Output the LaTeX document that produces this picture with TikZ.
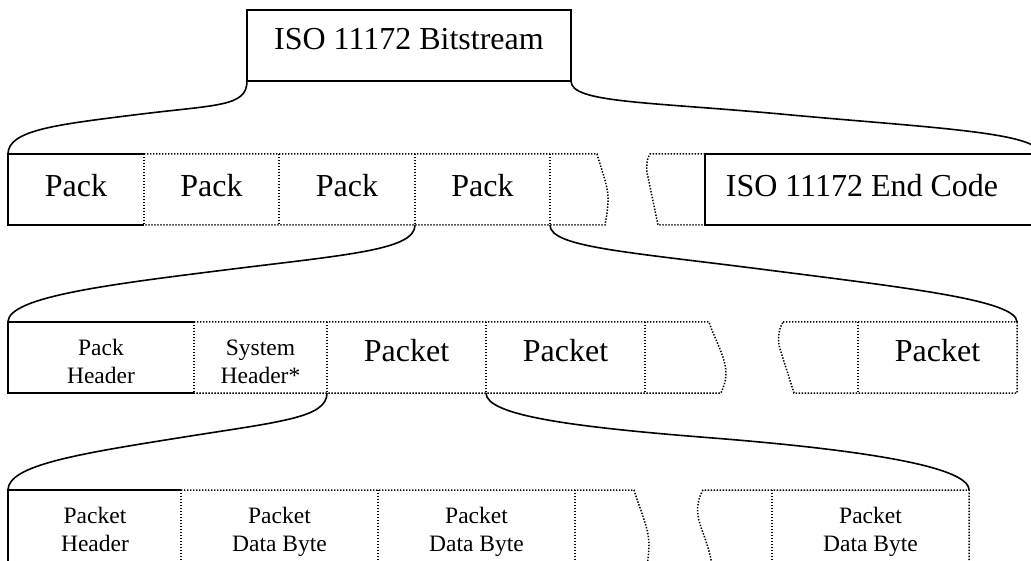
\documentclass[tikz,border=0pt]{standalone}
\usepackage{fontspec}
\setmainfont{Liberation Serif}
\usetikzlibrary{calc}
\begin{document}
\begin{tikzpicture}[x=1pt,y=-1pt,
  edgesolid/.style={line width=1.8pt},
  edgedot/.style={line width=1.5pt, dash pattern=on 1.4pt off 1.6pt},
  brc/.style={line width=1.6pt},
  big/.style={font=\fontsize{32}{36}\selectfont, inner sep=0pt, anchor=base},
  small/.style={font=\fontsize{23.5}{28}\selectfont, inner sep=0pt, align=center, anchor=base},
  boxn/.style={rectangle, inner sep=0pt, outer sep=0pt, anchor=north west}
]
\useasboundingbox (0,0) rectangle (1031,561);
\fill[white] (0,0) rectangle (1031,561);
\clip (0,0) rectangle (1031,561);

% ---------- boxes (named) ----------
\node[boxn, minimum width=324pt, minimum height=71pt] (bs) at (247,10) {};
% row 1
\node[boxn, minimum width=136pt, minimum height=71pt] (p1) at (8,154) {};
\node[boxn, minimum width=135pt, minimum height=71pt] (p2) at (144,154) {};
\node[boxn, minimum width=136pt, minimum height=71pt] (p3) at (279,154) {};
\node[boxn, minimum width=135pt, minimum height=71pt] (p4) at (415,154) {};
\node[boxn, minimum width=335pt, minimum height=71pt] (endc) at (705,154) {};
% row 2
\node[boxn, minimum width=186pt, minimum height=71pt] (ph) at (8,322) {};
\node[boxn, minimum width=133pt, minimum height=71pt] (sh) at (194,322) {};
\node[boxn, minimum width=159pt, minimum height=71pt] (k1) at (327,322) {};
\node[boxn, minimum width=159pt, minimum height=71pt] (k2) at (486,322) {};
\node[boxn, minimum width=159pt, minimum height=71pt] (kn) at (858,322) {};
% row 3
\node[boxn, minimum width=173pt, minimum height=100pt] (kh) at (8,490) {};
\node[boxn, minimum width=197pt, minimum height=100pt] (d1) at (181,490) {};
\node[boxn, minimum width=197pt, minimum height=100pt] (d2) at (378,490) {};
\node[boxn, minimum width=197pt, minimum height=100pt] (dn) at (772,490) {};

% ---------- borders ----------
\draw[edgesolid] (bs.north west) rectangle (bs.south east);

% row 1
\draw[edgedot] (p1.north east) -- (597,154)
  .. controls (603,175) and (609,188) .. (608,203)
  .. controls (607.5,212) and (606,219) .. (605,225) -- (p1.south east);
\foreach \b in {p1,p2,p3,p4} \draw[edgedot] (\b.north east) -- (\b.south east);
\draw[edgedot] (endc.north west) -- (650,154)
  .. controls (646,160) and (646,170) .. (648,177) -- (658,225) -- (endc.south west);
\draw[edgesolid] (p1.north east) -- (p1.north west) -- (p1.south west) -- (p1.south east);
\draw[edgesolid] (endc.north east) -- (endc.north west) -- (endc.south west) -- (endc.south east);

% row 2
\draw[edgedot] (ph.north east) -- (709,322)
  .. controls (715,340) and (726,358) .. (726,373)
  .. controls (726,382) and (723,388) .. (721,393) -- (ph.south east);
\foreach \b in {ph,sh,k1,k2} \draw[edgedot] (\b.north east) -- (\b.south east);
\draw[edgedot] (783,322) -- (kn.north east) -- (kn.south east) -- (794,393)
  -- (781,352) .. controls (777,342) and (778,330) .. (783,322);
\draw[edgedot] (kn.north west) -- (kn.south west);
\draw[edgesolid] (ph.north east) -- (ph.north west) -- (ph.south west) -- (ph.south east);

% row 3
\draw[edgedot] (kh.north east) -- (634,490)
  .. controls (640,510) and (649,528) .. (649,545)
  .. controls (649,560) and (645,575) .. (642,590);
\foreach \b in {kh,d1,d2} \draw[edgedot] (\b.north east) -- (\b.south east);
\draw[edgedot] (dn.south east) -- (dn.north east) -- (703,490)
  .. controls (697,500) and (696,512) .. (700,524)
  .. controls (705,540) and (713,555) .. (715,590);
\draw[edgedot] (dn.north west) -- (dn.south west);
\draw[edgesolid] (kh.south west) -- (kh.north west) -- (kh.north east);

% ---------- connectors ----------
\draw[brc] (bs.south west) .. controls +(0,26) and +(80,-10) ..
  ($(bs.south west)!0.46!(p1.north west)$) .. controls +(-80,10) and +(0,-24) .. (p1.north west);
\draw[brc] (bs.south east) .. controls +(0,22) and +(-140,-13) ..
  ($(bs.south east)!0.46!(endc.north east)$) .. controls +(140,13) and +(0,-22) .. (endc.north east);
\draw[brc] (p4.south west) .. controls +(0,25) and +(120,-15) ..
  ($(p4.south west)!0.46!(ph.north west)$) .. controls +(-120,15) and +(0,-25) .. (ph.north west);
\draw[brc] (p4.south east) .. controls +(0,22) and +(-140,-18) ..
  ($(p4.south east)!0.46!(kn.north east)$) .. controls +(140,18) and +(0,-22) .. (kn.north east);
\draw[brc] (k1.south west) .. controls +(0,25) and +(100,-16) ..
  ($(k1.south west)!0.46!(kh.north west)$) .. controls +(-100,16) and +(0,-25) .. (kh.north west);
\draw[brc] (k1.south east) .. controls +(0,22) and +(-140,-11) ..
  ($(k1.south east)!0.46!(dn.north east)$) .. controls +(140,11) and +(0,-25) .. (dn.north east);

% ---------- texts ----------
\node[big] (tbs) at (409,50) {ISO 11172 Bitstream};
\node[big] (t1) at (76,197) {Pack};
\node[big] (t2) at (211.5,197) {Pack};
\node[big] (t3) at (347,197) {Pack};
\node[big] (t4) at (482.5,197) {Pack};
\node[big] (tend) at (862,197) {ISO 11172 End Code};

\node[small] (tph) at (101,383) {Pack\\Header};
\node[small] (tsh) at (260.5,383) {System\\Header*};
\node[big] (tk1) at (406.5,362) {Packet};
\node[big] (tk2) at (565.5,362) {Packet};
\node[big] (tkn) at (937.5,362) {Packet};

\node[small] (tkh) at (95,551) {Packet\\Header};
\node[small] (td1) at (279.5,551) {Packet\\Data Byte};
\node[small] (td2) at (476.5,551) {Packet\\Data Byte};
\node[small] (tdn) at (870.5,551) {Packet\\Data Byte};
\end{tikzpicture}
\end{document}
